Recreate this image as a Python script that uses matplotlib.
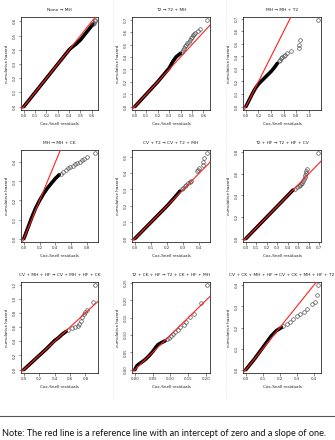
import numpy as np
import matplotlib
matplotlib.use("Agg")
import matplotlib.pyplot as plt
from matplotlib.ticker import MultipleLocator, FormatStrFormatter
from matplotlib.lines import Line2D

# panel titles (model comparisons)
titles = [
    "None \u2192 MH",
    "T2 \u2192 T2 + MH",
    "MH \u2192 MH + T2",
    "MH \u2192 MH + CK",
    "CV + T2 \u2192 CV + T2 + MH",
    "T2 + HF \u2192 T2 + HF + CV",
    "CV + MH + HF \u2192 CV + MH + HF + CK",
    "T2 + CK + HF \u2192 T2 + CK + HF + MH",
    "CV + CK + MH + HF \u2192 CV + CK + MH + HF + T2",
]

# dense (overplotted) part of each residual curve
dense_x1 = [0.0, 0.1, 0.2, 0.3, 0.4, 0.42, 0.46, 0.5, 0.54, 0.58, 0.61]
dense_y1 = [0.0, 0.1, 0.2, 0.3, 0.4, 0.415, 0.44, 0.47, 0.51, 0.55, 0.58]
tail_x1 = [0.615, 0.62, 0.625, 0.63]
tail_y1 = [0.585, 0.59, 0.6, 0.607]

dense_x2 = [0.0, 0.1, 0.2, 0.3, 0.33, 0.36, 0.4]
dense_y2 = [0.0, 0.1, 0.2, 0.31, 0.36, 0.4, 0.43]
tail_x2 = [0.41, 0.42, 0.43, 0.44, 0.45, 0.46, 0.47, 0.48, 0.49, 0.5, 0.51, 0.52, 0.53, 0.55, 0.57, 0.632]
tail_y2 = [0.44, 0.455, 0.47, 0.485, 0.5, 0.51, 0.525, 0.54, 0.55, 0.565, 0.575, 0.585, 0.595, 0.61, 0.625, 0.695]

dense_x3 = [0.0, 0.05, 0.1, 0.15, 0.2, 0.25, 0.3, 0.35, 0.4, 0.45, 0.5]
dense_y3 = [0.0, 0.05, 0.1, 0.145, 0.18, 0.205, 0.23, 0.255, 0.28, 0.31, 0.345]
tail_x3 = [0.52, 0.54, 0.56, 0.58, 0.6, 0.62, 0.65, 0.72, 0.84, 0.845, 0.865, 1.146]
tail_y3 = [0.36, 0.375, 0.385, 0.395, 0.405, 0.415, 0.425, 0.44, 0.47, 0.49, 0.53, 0.687]

dense_x4 = [0.0, 0.05, 0.1, 0.15, 0.2, 0.25, 0.3, 0.35, 0.4, 0.45]
dense_y4 = [0.0, 0.055, 0.11, 0.16, 0.2, 0.235, 0.265, 0.29, 0.315, 0.335]
tail_x4 = [0.47, 0.5, 0.53, 0.56, 0.59, 0.62, 0.65, 0.68, 0.71, 0.74, 0.77, 0.8, 0.907]
tail_y4 = [0.34, 0.35, 0.36, 0.368, 0.375, 0.382, 0.389, 0.395, 0.402, 0.41, 0.418, 0.43, 0.447]

dense_x5 = [0.0, 0.1, 0.2, 0.25, 0.28]
dense_y5 = [0.0, 0.1, 0.2, 0.255, 0.29]
tail_x5 = [0.29, 0.3, 0.31, 0.32, 0.33, 0.34, 0.35, 0.385, 0.39, 0.395, 0.42, 0.425, 0.43, 0.448]
tail_y5 = [0.3, 0.31, 0.32, 0.33, 0.34, 0.345, 0.35, 0.41, 0.42, 0.43, 0.45, 0.47, 0.49, 0.52]

dense_x6 = [0.0, 0.1, 0.2, 0.3, 0.4, 0.45]
dense_y6 = [0.0, 0.1, 0.2, 0.3, 0.4, 0.45]
tail_x6 = [0.47, 0.49, 0.51, 0.52, 0.53, 0.54, 0.55, 0.555, 0.56, 0.565, 0.57, 0.575, 0.58, 0.69]
tail_y6 = [0.46, 0.475, 0.49, 0.5, 0.51, 0.52, 0.53, 0.55, 0.57, 0.59, 0.61, 0.63, 0.65, 0.79]

dense_x7 = [0.0, 0.1, 0.2, 0.3, 0.4, 0.45, 0.5, 0.55]
dense_y7 = [0.0, 0.1, 0.2, 0.3, 0.41, 0.45, 0.5, 0.54]
tail_x7 = [0.58, 0.62, 0.66, 0.7, 0.72, 0.74, 0.76, 0.78, 0.8, 0.82, 0.905, 0.927]
tail_y7 = [0.56, 0.585, 0.6, 0.62, 0.65, 0.69, 0.74, 0.78, 0.81, 0.84, 0.957, 1.19]

dense_x8 = [0.0, 0.005, 0.01, 0.02, 0.03, 0.04, 0.05, 0.06, 0.065, 0.075, 0.085]
dense_y8 = [0.0, 0.01, 0.015, 0.022, 0.03, 0.04, 0.052, 0.066, 0.072, 0.078, 0.083]
tail_x8 = [0.09, 0.096, 0.102, 0.108, 0.114, 0.12, 0.128, 0.137, 0.145, 0.156, 0.165, 0.186, 0.203]
tail_y8 = [0.087, 0.091, 0.097, 0.104, 0.108, 0.115, 0.122, 0.13, 0.137, 0.152, 0.16, 0.193, 0.243]

dense_x9 = [0.0, 0.05, 0.1, 0.15, 0.18, 0.21]
dense_y9 = [0.0, 0.05, 0.105, 0.16, 0.185, 0.2]
tail_x9 = [0.22, 0.24, 0.26, 0.28, 0.3, 0.32, 0.34, 0.36, 0.39, 0.405, 0.42, 0.426]
tail_y9 = [0.205, 0.218, 0.228, 0.24, 0.255, 0.265, 0.275, 0.29, 0.31, 0.323, 0.352, 0.4]

dense_x = [dense_x1, dense_x2, dense_x3, dense_x4, dense_x5, dense_x6, dense_x7, dense_x8, dense_x9]
dense_y = [dense_y1, dense_y2, dense_y3, dense_y4, dense_y5, dense_y6, dense_y7, dense_y8, dense_y9]
tail_x = [tail_x1, tail_x2, tail_x3, tail_x4, tail_x5, tail_x6, tail_x7, tail_x8, tail_x9]
tail_y = [tail_y1, tail_y2, tail_y3, tail_y4, tail_y5, tail_y6, tail_y7, tail_y8, tail_y9]

# tick steps per panel
x_steps = [0.1, 0.1, 0.2, 0.2, 0.1, 0.1, 0.2, 0.05, 0.1]
y_steps = [0.1, 0.1, 0.1, 0.1, 0.1, 0.2, 0.2, 0.05, 0.1]

note = "Note: The red line is a reference line with an intercept of zero and a slope of one."

W, H = 335, 440
fig = plt.figure(figsize=(W / 100, H / 100), dpi=100)

col_px = [(21, 98), (132, 210), (243, 321)]
row_px = [(17, 110), (150, 242), (282, 373)]

# faint dotted crop borders
for xp in [113, 226]:
    fig.add_artist(Line2D([xp / W, xp / W], [1 - 400 / H, 1], color="#dddddd", lw=0.5, ls=":"))

for i in range(9):
    r, c = divmod(i, 3)
    x0, x1 = col_px[c]
    y0, y1 = row_px[r]
    ax = fig.add_axes([x0 / W, 1 - y1 / H, (x1 - x0) / W, (y1 - y0) / H])

    ax.plot(dense_x[i], dense_y[i], color="black", lw=2.6, solid_capstyle="round", zorder=2)
    ax.plot(tail_x[i], tail_y[i], ls="none", marker="o", ms=2.6, mfc="none",
            mec="#444444", mew=0.45, zorder=2)
    ax.margins(0.04)
    ax.axline((0, 0), slope=1, color="#ff2020", lw=0.8, zorder=3)

    fmt = "%.2f" if x_steps[i] < 0.1 else "%.1f"
    ax.xaxis.set_major_locator(MultipleLocator(x_steps[i]))
    ax.xaxis.set_major_formatter(FormatStrFormatter(fmt))
    fmt = "%.2f" if y_steps[i] < 0.1 else "%.1f"
    ax.yaxis.set_major_locator(MultipleLocator(y_steps[i]))
    ax.yaxis.set_major_formatter(FormatStrFormatter(fmt))

    ax.tick_params(length=1.8, width=0.4, pad=1.2, labelsize=2.8, colors="#333333")
    for lab in ax.get_yticklabels():
        lab.set_rotation(90)
        lab.set_va("center")
    for s in ax.spines.values():
        s.set_linewidth(0.5)

    ax.set_title(titles[i], fontsize=3.2, pad=4, color="#222222")
    ax.set_xlabel("Cox-Snell residuals", fontsize=3.0, labelpad=3, color="#222222")
    ax.set_ylabel("cumulative hazard", fontsize=3.0, labelpad=3, color="#222222")

fig.add_artist(Line2D([0, 1], [1 - 416 / H, 1 - 416 / H], color="#555555", lw=0.8))
fig.text(2 / W, 1 - 433 / H, note, fontsize=6.6, family=["Lato", "DejaVu Sans"],
         va="center", ha="left", color="#111111")

fig.savefig("out.png", dpi=100)
